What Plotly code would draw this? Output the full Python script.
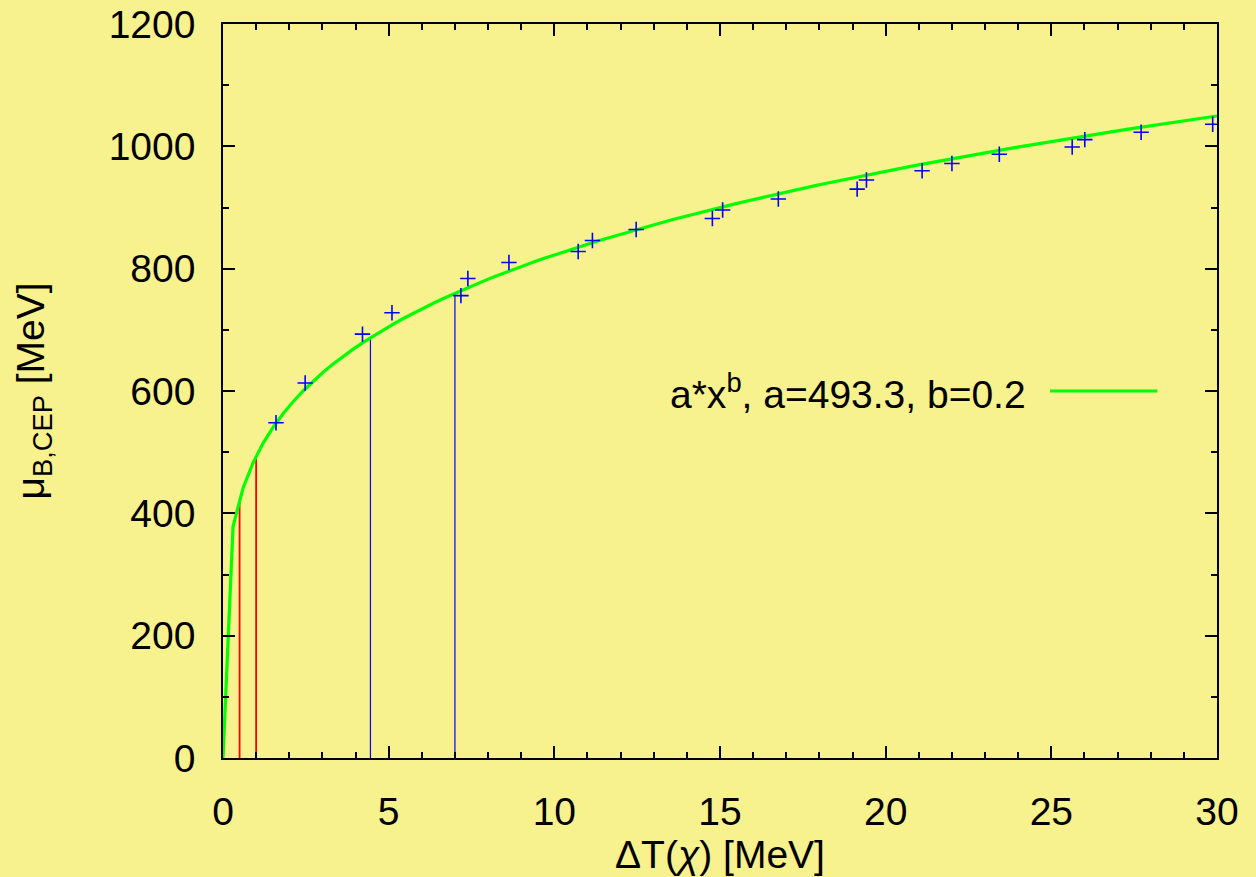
import numpy as np
import plotly.graph_objects as go

# Measured points: temperature splitting vs. baryon chemical potential at the CEP
delta_T = [1.60, 2.48, 4.21, 5.10, 7.18, 7.39, 8.63, 10.72, 11.15, 12.47, 14.77,
           15.08, 16.76, 19.14, 19.42, 21.10, 22.00, 23.43, 25.63, 26.01, 27.71, 29.87]
mu_B = [548, 613, 693, 728, 756, 784, 810, 828, 846, 864, 882,
        896, 914, 930, 945, 960, 972, 987, 999, 1011, 1023, 1036]

# Power-law fit  mu = a * x^b
fit_a = 493.3
fit_b = 0.222
n_samples = 100
x_min, x_max = 0.0, 30.0

# Vertical marker lines (position, height, colour)
drop_x = [0.5, 1.0, 4.45, 7.0]
drop_y = [418, 490, 687, 760]
drop_color = ["#ff0000", "#ff0000", "#0000ff", "#0000ff"]
drop_width = [1.8, 1.8, 1.2, 1.2]

x_ticks = [0, 5, 10, 15, 20, 25, 30]
y_ticks = [0, 200, 400, 600, 800, 1000, 1200]

BG = "#f7f18e"
FONT = "Liberation Sans, Arial, Helvetica, sans-serif"
FS = 39

fig = go.Figure()

for xv, yv, c, w in zip(drop_x, drop_y, drop_color, drop_width):
    fig.add_trace(go.Scatter(x=[xv, xv], y=[0, yv], mode="lines",
                             line=dict(color=c, width=w), showlegend=False,
                             hoverinfo="skip"))

xs = np.linspace(x_min, x_max, n_samples)
fig.add_trace(go.Scatter(x=xs, y=fit_a * xs ** fit_b, mode="lines",
                         line=dict(color="#00ff00", width=3.2),
                         showlegend=False))

fig.add_trace(go.Scatter(x=delta_T, y=mu_B, mode="markers",
                         marker=dict(symbol="cross-thin", size=11,
                                     line=dict(color="#0000ff", width=1.6)),
                         showlegend=False))

# Key: text on the left, line sample on the right
fig.add_annotation(xref="paper", yref="paper", x=0.81, y=0.5,
                   xanchor="right", yanchor="middle", showarrow=False,
                   text=f"a*x<sup>b</sup>, a={fit_a:.1f}, b={fit_b:.1f}",
                   font=dict(family=FONT, size=FS, color="black"))
fig.add_shape(type="line", xref="paper", yref="paper",
              x0=0.832, x1=0.94, y0=0.5, y1=0.5,
              line=dict(color="#00ff00", width=3.2))

axis_common = dict(
    showline=True, linecolor="black", linewidth=1.6, mirror="allticks",
    ticks="inside", ticklen=12, tickwidth=1.6, tickcolor="black",
    showgrid=False, zeroline=False,
    tickfont=dict(family=FONT, size=FS, color="black"),
)

fig.update_xaxes(range=[x_min, x_max], tickvals=x_ticks,
                 minor=dict(ticks="inside", ticklen=6, tickwidth=1.6,
                            tickcolor="black", dtick=1, showgrid=False),
                 ticklabelstandoff=18,
                 title=dict(text="ΔT(<i>χ</i>) [MeV]",
                            font=dict(family=FONT, size=FS, color="black"),
                            standoff=2),
                 **axis_common)
fig.update_yaxes(range=[0, 1200], tickvals=y_ticks,
                 minor=dict(ticks="inside", ticklen=6, tickwidth=1.6,
                            tickcolor="black", dtick=100, showgrid=False),
                 ticklabelstandoff=18,
                 title=dict(text="μ<sub>B,CEP</sub> [MeV]",
                            font=dict(family=FONT, size=FS, color="black"),
                            standoff=52),
                 **axis_common)

fig.update_layout(
    width=1256, height=877,
    margin=dict(l=223, r=39, t=24, b=119, autoexpand=False),
    paper_bgcolor=BG, plot_bgcolor=BG,
    font=dict(family=FONT, size=FS, color="black"),
)

fig.write_html("out.html")
